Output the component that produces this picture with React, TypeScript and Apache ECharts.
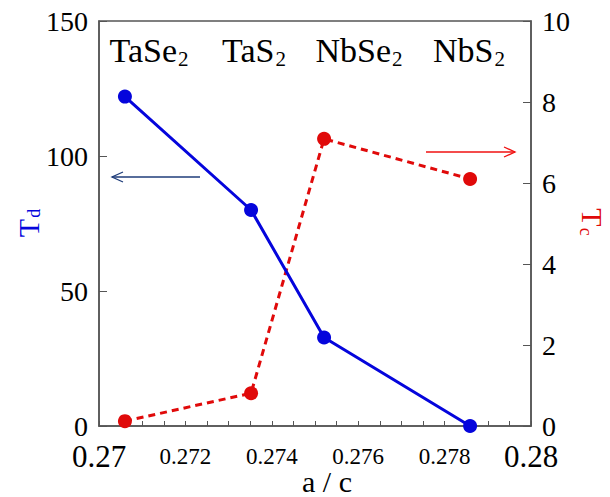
import React, { useEffect, useRef } from "react";
import * as echarts from "echarts";

const ratioAC: number[] = [0.2706, 0.27352, 0.27521, 0.27859];
const tdValues: number[] = [122, 80, 32.8, 0];
const tcValues: number[] = [0.12, 0.81, 7.09, 6.1];
const compounds: string[] = ["TaSe", "TaS", "NbSe", "NbS"];
const compoundX: number[] = [149, 254, 359, 469];

const SERIF = "Liberation Serif, Times New Roman, serif";
const BLUE = "#0505dc";
const RED = "#e00a0a";
const AXIS = "#555555";

export default function App() {
  const ref = useRef<HTMLDivElement>(null);
  useEffect(() => {
    if (!ref.current) return;
    const chart = echarts.init(ref.current, undefined, { renderer: "svg" });
    const fmtX = (v: number) => {
      let s = v.toFixed(3);
      s = s.replace(/0+$/, "");
      const big = Math.abs(v - 0.27) < 1e-9 || Math.abs(v - 0.28) < 1e-9;
      return big ? `{big|${s}}` : `{small|${s}}`;
    };
    chart.setOption({
      animation: false,
      grid: {
        left: 99,
        right: 79,
        top: 21,
        bottom: 71,
        show: true,
        borderColor: AXIS,
        borderWidth: 1.5,
        backgroundColor: "transparent",
        containLabel: false,
        outerBoundsMode: "none",
      },
      xAxis: {
        type: "value",
        min: 0.27,
        max: 0.28,
        interval: 0.002,
        axisLine: { show: true, lineStyle: { color: AXIS, width: 1.5 } },
        axisTick: { show: true, inside: true, length: 5, lineStyle: { color: AXIS } },
        minorTick: { show: true, splitNumber: 4, length: 5, lineStyle: { color: AXIS } },
        splitLine: { show: false },
        axisLabel: {
          margin: 15,
          formatter: fmtX,
          rich: {
            big: { fontFamily: SERIF, fontSize: 31, color: "#000" },
            small: { fontFamily: SERIF, fontSize: 23, color: "#000", padding: [4, 0, 0, 0] },
          },
        },
      },
      yAxis: [
        {
          type: "value",
          min: 0,
          max: 150,
          interval: 50,
          position: "left",
          axisLine: { show: true, lineStyle: { color: AXIS, width: 1.5 } },
          axisTick: { show: true, inside: true, length: 8, lineStyle: { color: AXIS } },
          splitLine: { show: false },
          axisLabel: { margin: 11, fontFamily: SERIF, fontSize: 28, color: "#000" },
        },
        {
          type: "value",
          min: 0,
          max: 10,
          interval: 2,
          position: "right",
          axisLine: { show: true, lineStyle: { color: AXIS, width: 1.5 } },
          axisTick: { show: true, inside: true, length: 8, lineStyle: { color: AXIS } },
          splitLine: { show: false },
          axisLabel: { margin: 11, fontFamily: SERIF, fontSize: 28, color: "#000" },
        },
      ],
      series: [
        {
          type: "line",
          yAxisIndex: 0,
          data: ratioAC.map((x, i) => [x, tdValues[i]]),
          symbol: "circle",
          symbolSize: 14,
          itemStyle: { color: BLUE },
          lineStyle: { color: BLUE, width: 3 },
          z: 3,
        },
        {
          type: "line",
          yAxisIndex: 1,
          data: ratioAC.map((x, i) => [x, tcValues[i]]),
          symbol: "circle",
          symbolSize: 14,
          itemStyle: { color: RED },
          lineStyle: { color: RED, width: 3, type: [7, 5] },
          z: 2,
        },
      ],
      graphic: [
        ...compounds.map((c, i) => ({
          type: "text",
          x: compoundX[i],
          y: 50,
          style: {
            text: `{m|${c}}{s|2}`,
            align: "center",
            verticalAlign: "middle",
            rich: {
              m: { fontFamily: SERIF, fontSize: 34, fill: "#000" },
              s: { fontFamily: SERIF, fontSize: 21, fill: "#000", padding: [17, 0, 0, 1] },
            },
          },
        })),
        {
          type: "text",
          x: 327,
          y: 481,
          style: {
            text: "a / c",
            align: "center",
            verticalAlign: "middle",
            fontFamily: SERIF,
            fontSize: 30,
            fill: "#000",
          },
        },
        {
          type: "text",
          x: 28,
          y: 223,
          rotation: Math.PI / 2,
          style: {
            text: "{m|T}{s|d}",
            align: "center",
            verticalAlign: "middle",
            rich: {
              m: { fontFamily: SERIF, fontSize: 30, fill: BLUE },
              s: { fontFamily: SERIF, fontSize: 18, fill: BLUE, padding: [12, 0, 0, 1] },
            },
          },
        },
        {
          type: "text",
          x: 592,
          y: 222,
          rotation: -Math.PI / 2,
          style: {
            text: "{m|T}{s|c}",
            align: "center",
            verticalAlign: "middle",
            rich: {
              m: { fontFamily: SERIF, fontSize: 30, fill: RED },
              s: { fontFamily: SERIF, fontSize: 18, fill: RED, padding: [12, 0, 0, 1] },
            },
          },
        },
        {
          type: "line",
          shape: { x1: 200, y1: 177, x2: 112, y2: 177 },
          style: { stroke: "#1f3d7a", lineWidth: 1.3 },
        },
        {
          type: "polyline",
          shape: { points: [[123, 172], [112, 177], [123, 182]] },
          style: { stroke: "#1f3d7a", lineWidth: 1.3, fill: null },
        },
        {
          type: "line",
          shape: { x1: 426, y1: 152, x2: 515, y2: 152 },
          style: { stroke: "#f01010", lineWidth: 1.3 },
        },
        {
          type: "polyline",
          shape: { points: [[504, 147], [515, 152], [504, 157]] },
          style: { stroke: "#f01010", lineWidth: 1.3, fill: null },
        },
      ],
    });
    return () => chart.dispose();
  }, []);
  return (
    <div
      ref={ref}
      style={{ position: "absolute", left: 0, top: 0, width: 610, height: 497 }}
    />
  );
}
